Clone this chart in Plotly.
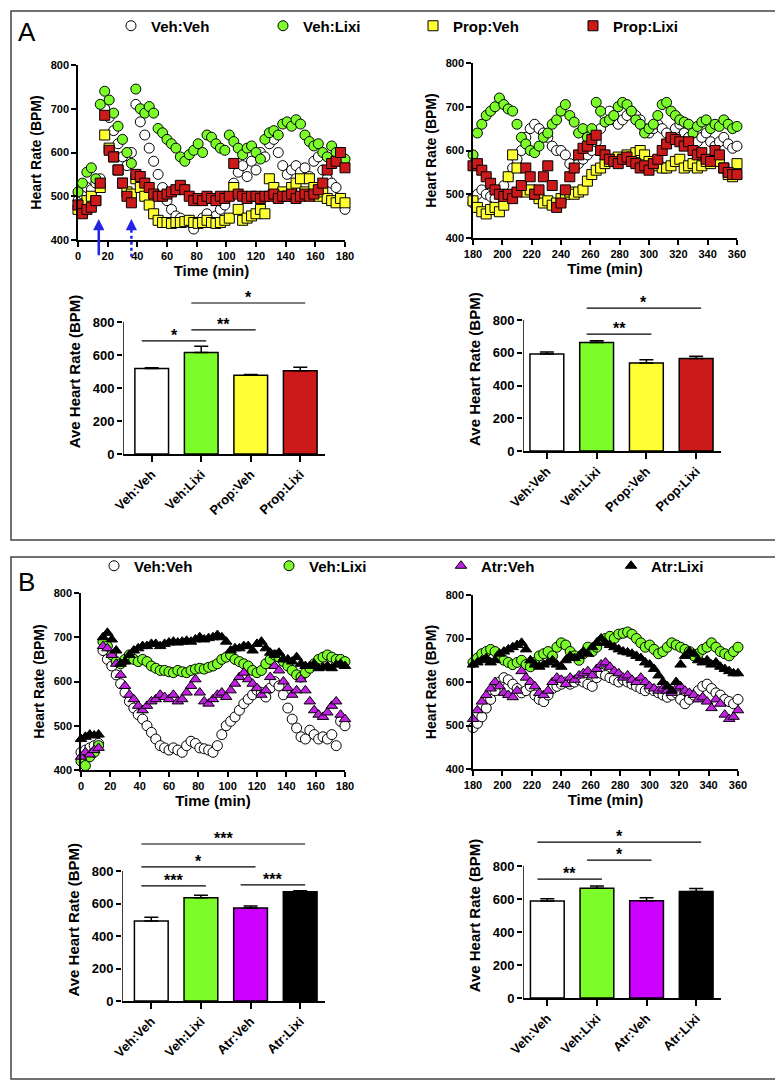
import plotly.graph_objects as go

W, H = 783, 1082

# ---------------- data ----------------
t_early = list(range(0, 181, 3))
t_late = list(range(180, 361, 3))

# Panel A, 0-180 min
a_vehveh_1 = [490, 505, 520, 515, 530, 540, 700, 680, 650, 620, 590, 570, 600, 710, 670, 640, 610, 580, 550, 520,
              490, 470, 455, 450, 440, 445, 425, 440, 450, 460, 445, 455, 470, 480, 500, 530, 555, 570, 545, 580,
              560, 600, 590, 620, 630, 600, 570, 550, 560, 570, 555, 565, 545, 580, 590, 560, 540, 530, 520, 490, 470]
a_vehlixi_1 = [510, 530, 555, 565, 540, 710, 740, 720, 690, 660, 630, 600, 575, 745, 700, 690, 705, 690, 655, 645,
               630, 620, 610, 590, 580, 595, 605, 620, 600, 640, 635, 620, 610, 605, 640, 625, 610, 595, 610, 615,
               600, 585, 630, 645, 650, 640, 665, 670, 660, 675, 665, 640, 625, 615, 620, 600, 590, 615, 600, 580, 585]
a_propveh_1 = [470, 480, 490, 500, 490, 520, 640, 610, 590, 560, 530, 510, 505, 540, 520, 500, 480, 460, 445, 440,
               440, 438, 440, 440, 442, 445, 440, 438, 440, 445, 440, 438, 440, 445, 450, 520, 470, 445, 450, 455,
               460, 470, 460, 540, 520, 500, 510, 500, 520, 530, 540, 510, 540, 520, 500, 510, 495, 490, 485, 495, 485]
a_proplixi_1 = [480, 460, 470, 475, 490, 530, 685, 605, 590, 560, 530, 500, 485, 550, 545, 530, 520, 505, 500, 500,
                505, 510, 515, 525, 515, 500, 490, 495, 490, 500, 495, 490, 500, 495, 500, 575, 505, 500, 495, 500,
                500, 495, 500, 500, 505, 495, 500, 500, 505, 495, 500, 505, 500, 505, 515, 530, 560, 575, 580, 600, 565]

# Panel A, 180-360 min
a_vehveh_2 = [480, 500, 510, 500, 495, 490, 500, 520, 540, 560, 580, 600, 630, 650, 660, 650, 640, 630, 610, 600,
              600, 590, 570, 560, 570, 580, 590, 600, 620, 650, 680, 690, 670, 660, 670, 680, 690, 680, 670, 650,
              640, 650, 660, 650, 640, 630, 650, 660, 640, 630, 620, 620, 630, 640, 620, 610, 620, 630, 615, 605, 610]
a_vehlixi_2 = [590, 640, 660, 680, 690, 700, 720, 705, 695, 690, 660, 630, 615, 600, 595, 610, 630, 640, 660, 670,
               690, 705, 680, 665, 640, 650, 630, 650, 710, 690, 665, 670, 680, 700, 710, 705, 690, 670, 660, 640,
               650, 660, 680, 705, 710, 690, 680, 670, 665, 660, 640, 655, 665, 670, 650, 660, 655, 670, 660, 650, 655]
a_propveh_2 = [485, 470, 460, 455, 465, 470, 460, 475, 540, 590, 560, 520, 505, 510, 500, 490, 480, 485, 475, 480,
               490, 500, 505, 500, 505, 510, 530, 545, 555, 560, 570, 575, 580, 585, 580, 590, 585, 595, 600, 590,
               575, 570, 565, 560, 560, 565, 575, 580, 560, 565, 570, 560, 565, 575, 570, 580, 575, 560, 545, 540, 570]
a_proplixi_2 = [565, 570, 555, 540, 525, 510, 500, 495, 500, 490, 505, 520, 560, 540, 500, 510, 540, 565, 520, 470,
                480, 510, 540, 560, 590, 605, 610, 625, 635, 600, 590, 580, 575, 570, 580, 585, 575, 570, 560, 565,
                555, 570, 580, 600, 615, 630, 625, 620, 610, 620, 600, 590, 595, 580, 575, 600, 590, 560, 550, 545, 545]

# Panel B, 0-180 min
b_vehveh_1 = [440, 445, 450, 455, 460, 670, 650, 635, 615, 595, 575, 555, 540, 525, 515, 500, 485, 470, 455, 450,
              445, 450, 445, 440, 455, 465, 460, 450, 448, 445, 440, 455, 480, 500, 510, 520, 535, 550, 560, 570,
              580, 575, 565, 585, 600, 590, 570, 540, 515, 495, 475, 470, 490, 480, 470, 475, 470, 480, 455, 510, 500]
b_vehlixi_1 = [420, 410, 430, 440, 455, 690, 680, 660, 645, 640, 650, 660, 650, 645, 650, 645, 635, 630, 625, 625,
               622, 620, 625, 622, 620, 625, 628, 630, 628, 632, 635, 640, 650, 655, 660, 650, 645, 640, 635, 625,
               620, 625, 640, 650, 660, 655, 645, 635, 625, 615, 610, 620, 630, 640, 650, 655, 660, 655, 650, 650, 645]
b_atrveh_1 = [430, 440, 435, 445, 450, 680, 675, 660, 640, 615, 590, 570, 560, 545, 535, 545, 555, 560, 570, 565,
              560, 570, 555, 560, 575, 590, 605, 575, 555, 550, 560, 570, 575, 565, 580, 595, 610, 620, 605, 595,
              585, 570, 580, 610, 635, 625, 600, 585, 570, 580, 605, 580, 555, 535, 525, 520, 530, 545, 555, 525, 515]
b_atrlixi_1 = [470, 475, 480, 478, 480, 700, 710, 695, 670, 640, 645, 660, 670, 675, 680, 680, 685, 685, 680, 685,
               688, 690, 688, 690, 692, 690, 695, 700, 695, 698, 700, 705, 700, 690, 670, 675, 675, 680, 680, 670,
               685, 690, 675, 665, 660, 665, 650, 650, 645, 655, 640, 635, 635, 640, 630, 632, 635, 630, 638, 640, 635]

# Panel B, 180-360 min
b_vehveh_2 = [495, 505, 520, 540, 560, 580, 600, 610, 605, 595, 585, 575, 580, 590, 570, 560, 555, 570, 585, 590,
              595, 600, 595, 600, 605, 600, 595, 590, 610, 620, 615, 610, 605, 600, 605, 600, 595, 590, 585, 580,
              585, 580, 575, 570, 565, 570, 575, 560, 550, 560, 570, 580, 590, 595, 585, 575, 570, 560, 555, 550, 560]
b_vehlixi_2 = [645, 655, 665, 670, 675, 670, 660, 650, 645, 640, 645, 650, 640, 635, 645, 660, 665, 670, 660, 680,
               690, 685, 670, 660, 650, 665, 680, 670, 680, 695, 700, 705, 700, 710, 712, 715, 710, 700, 690, 680,
               685, 675, 665, 670, 680, 690, 685, 680, 675, 670, 660, 665, 675, 680, 690, 680, 670, 665, 660, 670, 680]
b_atrveh_2 = [515, 535, 555, 570, 585, 600, 590, 575, 570, 565, 580, 625, 610, 600, 590, 575, 570, 580, 600, 610,
              605, 595, 610, 605, 615, 620, 625, 615, 630, 640, 645, 635, 625, 620, 610, 615, 605, 600, 610, 600,
              590, 585, 580, 585, 580, 575, 585, 590, 580, 575, 570, 560, 565, 555, 540, 560, 550, 525, 515, 520, 535]
b_atrlixi_2 = [640, 645, 650, 655, 645, 650, 665, 670, 675, 680, 685, 690, 675, 650, 640, 635, 640, 645, 650, 640,
               635, 650, 660, 655, 660, 670, 665, 680, 690, 700, 690, 685, 680, 675, 670, 668, 665, 660, 655, 645,
               640, 630, 615, 600, 590, 580, 600, 640, 660, 670, 665, 650, 645, 650, 640, 645, 635, 630, 625, 620, 620]

# Averages (bars)
groups_a = ["Veh:Veh", "Veh:Lixi", "Prop:Veh", "Prop:Lixi"]
groups_b = ["Veh:Veh", "Veh:Lixi", "Atr:Veh", "Atr:Lixi"]
a_avg_1 = [518, 615, 478, 505]
a_sem_1 = [5, 38, 4, 20]
a_avg_2 = [593, 662, 537, 565]
a_sem_2 = [12, 12, 20, 14]
b_avg_1 = [493, 635, 573, 673]
b_sem_1 = [22, 15, 12, 5]
b_avg_2 = [588, 665, 590, 645]
b_sem_2 = [14, 14, 18, 18]

# significance brackets: (group i, group j, height in BPM, label)
a_sig_1 = [(0, 1, 685, "*"), (1, 2, 752, "**"), (1, 3, 915, "*")]
a_sig_2 = [(1, 2, 714, "**"), (1, 3, 873, "*")]
b_sig_1 = [(0, 1, 708, "***"), (0, 2, 825, "*"), (0, 3, 966, "***"), (2, 3, 714, "***")]
b_sig_2 = [(0, 1, 721, "**"), (1, 2, 836, "*"), (0, 3, 945, "*")]

# drug injection times (min)
a_arrow_solid = 14
a_arrow_dotted = 36
b_arrow = 11

# ---------------- styling ----------------
FONT = "Arial, Liberation Sans, sans-serif"
GREEN = "#7CFC28"
YELLOW = "#FFFF33"
RED = "#CC1A1A"
PURPLE = "#C020E0"
BAR_PURPLE = "#CC00FF"

styles_a = [("Veh:Veh", "circle", "white"), ("Veh:Lixi", "circle", GREEN),
            ("Prop:Veh", "square", YELLOW), ("Prop:Lixi", "square", RED)]
styles_b = [("Veh:Veh", "circle", "white"), ("Veh:Lixi", "circle", GREEN),
            ("Atr:Veh", "triangle-up", PURPLE), ("Atr:Lixi", "triangle-up", "black")]
bar_colors_a = ["white", GREEN, YELLOW, RED]
bar_colors_b = ["white", GREEN, BAR_PURPLE, "black"]

# legend key positions (px of symbol centre) for each panel
legend_keys_a = [130, 282, 432, 592]
legend_keys_b = [113, 288, 460, 630]


def xdom(left, right):
    return [left / W, right / W]


def ydom(top, bottom):
    return [1 - bottom / H, 1 - top / H]


BAR_TOP = 1000


def bar_ydom(px800, px0):
    top = px0 - (BAR_TOP / 800) * (px0 - px800)
    return ydom(top, px0)


fig = go.Figure()
layout = dict()
shapes = []
annotations = []

tick_font = dict(family=FONT, size=11, color="black", weight="bold")
title_font = dict(family=FONT, size=15, color="black", weight="bold")
legend_font = dict(family=FONT, size=15, color="black", weight="bold")
legend_count = [0]


def add_legend(xpx, ypx):
    legend_count[0] += 1
    name = "legend" if legend_count[0] == 1 else "legend%d" % legend_count[0]
    layout[name] = dict(x=(xpx - 27) / W, xanchor="left", y=1 - (ypx - 8) / H, yanchor="middle",
                        font=legend_font, bgcolor="rgba(0,0,0,0)", itemwidth=30,
                        orientation="h")
    return name


def time_panel(n, series, styles, t, xr, xd, yd, keys=None, key_y=None):
    xa, ya = ("x" if n == 1 else "x%d" % n), ("y" if n == 1 else "y%d" % n)
    for k, (vals, (name, sym, col)) in enumerate(zip(series, styles)):
        leg = add_legend(keys[k], key_y) if keys else None
        fig.add_trace(go.Scatter(
            x=t, y=vals, mode="markers", name=name, xaxis=xa, yaxis=ya,
            marker=dict(symbol=sym, size=10, color=col, line=dict(color="black", width=1)),
            cliponaxis=False, showlegend=leg is not None, legend=leg or "legend"))
    layout["xaxis" if n == 1 else "xaxis%d" % n] = dict(
        domain=xd, range=xr, anchor=ya, tickvals=list(range(xr[0], xr[1] + 1, 20)),
        showline=True, linecolor="black", linewidth=1.5, ticks="outside", ticklen=5,
        tickwidth=1.5, tickcolor="black", tickfont=tick_font, showgrid=False, zeroline=False,
        title=dict(text="Time (min)", font=title_font, standoff=5), automargin=False)
    layout["yaxis" if n == 1 else "yaxis%d" % n] = dict(
        domain=yd, range=[400, 800], anchor=xa, tickvals=[400, 500, 600, 700, 800],
        showline=True, linecolor="black", linewidth=1.5, ticks="outside", ticklen=5,
        tickwidth=1.5, tickcolor="black", tickfont=tick_font, showgrid=False, zeroline=False,
        title=dict(text="Heart Rate (BPM)", font=dict(family=FONT, size=14, color="black", weight="bold"),
                   standoff=6), automargin=False)


def bar_panel(n, groups, avg, sem, colors, sig, xr, xd, yd):
    xa, ya = "x%d" % n, "y%d" % n
    fig.add_trace(go.Bar(
        x=list(range(len(groups))), y=avg, xaxis=xa, yaxis=ya, width=0.68, showlegend=False,
        marker=dict(color=colors, line=dict(color="black", width=1.5)),
        error_y=dict(type="data", array=sem, arrayminus=[0] * len(sem), symmetric=False,
                     color="black", thickness=1.5, width=7)))
    layout["xaxis%d" % n] = dict(
        domain=xd, range=xr, anchor=ya, tickvals=list(range(len(groups))), ticktext=groups,
        tickangle=-45, showline=True, linecolor="black", linewidth=1.5, ticks="outside",
        ticklen=6, tickwidth=1.5, tickcolor="black",
        tickfont=dict(family=FONT, size=13, color="black", weight="bold"),
        showgrid=False, zeroline=False, automargin=False)
    layout["yaxis%d" % n] = dict(
        domain=yd, range=[0, BAR_TOP], anchor=xa, tickvals=[0, 200, 400, 600, 800],
        showline=False, ticks="outside", ticklen=5, tickwidth=1.5, tickcolor="black",
        tickfont=dict(family=FONT, size=13, color="black", weight="bold"),
        showgrid=False, zeroline=False, automargin=False,
        title=dict(text="Ave Heart Rate (BPM)", font=title_font, standoff=8))
    # y axis line only up to 800
    shapes.append(dict(type="line", xref=xa, yref=ya, x0=xr[0], x1=xr[0], y0=0, y1=800,
                       line=dict(color="black", width=1.5)))
    for i, j, h, lab in sig:
        shapes.append(dict(type="line", xref=xa, yref=ya, x0=i - 0.2, x1=j + 0.1, y0=h, y1=h,
                           line=dict(color="black", width=1.2)))
        annotations.append(dict(x=(i - 0.2 + j + 0.1) / 2, y=h, xref=xa, yref=ya, text=lab,
                                showarrow=False, yanchor="bottom", yshift=-5,
                                font=dict(family=FONT, size=16, color="black", weight="bold")))


# Panel A
time_panel(1, [a_vehveh_1, a_vehlixi_1, a_propveh_1, a_proplixi_1], styles_a, t_early, [0, 180],
           xdom(70, 337), ydom(57, 232), legend_keys_a, 26)
time_panel(2, [a_vehveh_2, a_vehlixi_2, a_propveh_2, a_proplixi_2], styles_a, t_late, [180, 360],
           xdom(465, 729), ydom(55, 230))
bar_panel(3, groups_a, a_avg_1, a_sem_1, bar_colors_a, a_sig_1, [-0.58, 3.5], xdom(115, 317), bar_ydom(314, 446))
bar_panel(4, groups_a, a_avg_2, a_sem_2, bar_colors_a, a_sig_2, [-0.48, 3.5], xdom(515, 713), bar_ydom(312, 443))

# Panel B
time_panel(5, [b_vehveh_1, b_vehlixi_1, b_atrveh_1, b_atrlixi_1], styles_b, t_early, [0, 180],
           xdom(73, 337), ydom(585, 762), legend_keys_b, 566)
time_panel(6, [b_vehveh_2, b_vehlixi_2, b_atrveh_2, b_atrlixi_2], styles_b, t_late, [180, 360],
           xdom(465, 730), ydom(587, 761))
bar_panel(7, groups_b, b_avg_1, b_sem_1, bar_colors_b, b_sig_1, [-0.59, 3.5], xdom(114, 317), bar_ydom(863, 993))
bar_panel(8, groups_b, b_avg_2, b_sem_2, bar_colors_b, b_sig_2, [-0.49, 3.5], xdom(515, 713), bar_ydom(858, 990))


# injection arrows
def to_paper_x(xd, xr, v):
    return xd[0] + (v - xr[0]) / (xr[1] - xr[0]) * (xd[1] - xd[0])


def to_paper_y(yd, yr, v):
    return yd[0] + (v - yr[0]) / (yr[1] - yr[0]) * (yd[1] - yd[0])


annotations.append(dict(x=a_arrow_solid, y=448, ax=a_arrow_solid, ay=362, xref="x", yref="y",
                        axref="x", ayref="y", text="", showarrow=True, arrowhead=2, arrowsize=0.9,
                        arrowwidth=2.5, arrowcolor="#2323E6"))
xd1, yd1 = xdom(70, 337), ydom(57, 232)
px = to_paper_x(xd1, [0, 180], a_arrow_dotted)
shapes.append(dict(type="line", xref="paper", yref="paper", x0=px, x1=px,
                   y0=to_paper_y(yd1, [400, 800], 362), y1=to_paper_y(yd1, [400, 800], 430),
                   line=dict(color="#2323E6", width=2.5, dash="dot")))
annotations.append(dict(x=a_arrow_dotted, y=448, ax=a_arrow_dotted, ay=428, xref="x", yref="y",
                        axref="x", ayref="y", text="", showarrow=True, arrowhead=2, arrowsize=0.9,
                        arrowwidth=2.5, arrowcolor="#2323E6"))
annotations.append(dict(x=b_arrow, y=386, ax=b_arrow, ay=312, xref="x5", yref="y5",
                        axref="x5", ayref="y5", text="", showarrow=True, arrowhead=2, arrowsize=0.9,
                        arrowwidth=2.5, arrowcolor="#CC1A1A"))

# panel frames and letters
for top, bottom, letter, ly in [(3, 532, "A", 24), (549, 1071, "B", 574)]:
    shapes.append(dict(type="rect", xref="paper", yref="paper", x0=3 / W, x1=779 / W,
                       y0=1 - bottom / H, y1=1 - top / H, line=dict(color="#444444", width=1.5)))
    annotations.append(dict(x=8 / W, y=1 - ly / H, xref="paper", yref="paper", text=letter,
                            showarrow=False, xanchor="left", yanchor="middle",
                            font=dict(family=FONT, size=26, color="black")))

fig.update_layout(
    width=W, height=H, template="none", paper_bgcolor="white", plot_bgcolor="rgba(0,0,0,0)",
    margin=dict(l=0, r=0, t=0, b=0), font=dict(family=FONT, color="black"),
    shapes=shapes, annotations=annotations,
    **layout)

fig.write_html("out.html")
